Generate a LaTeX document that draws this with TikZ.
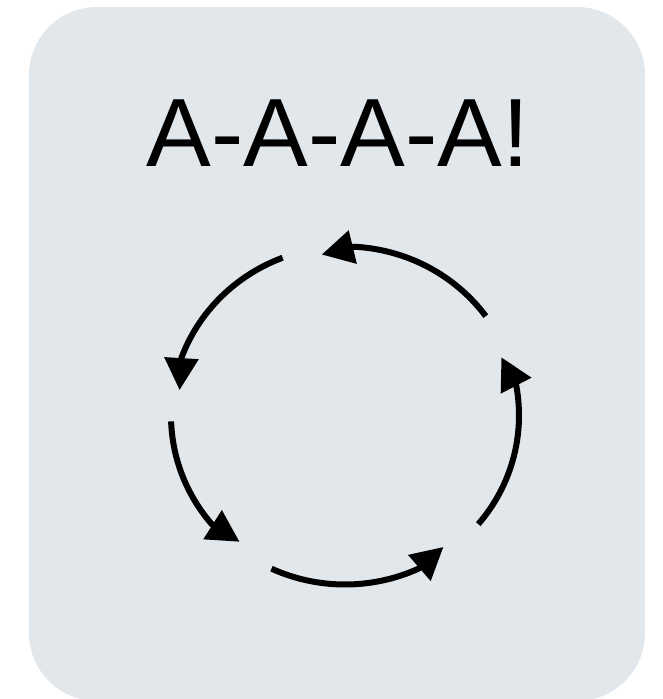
\documentclass[tikz,border=0pt]{standalone}
\usepackage{fontspec}
\setmainfont{Liberation Sans}
\usetikzlibrary{arrows.meta,calc}
\definecolor{panelgray}{HTML}{E2E7EC}

\begin{document}
\begin{tikzpicture}[x=1pt,y=1pt,
  cyclearrow/.style={line width=6pt,-{Triangle[length=32pt,width=33pt]}}]
 \useasboundingbox (0,0) rectangle (662,699);
 % panel
 \fill[panelgray,rounded corners=68pt] (29,-2) rectangle (645,692);
 % title
 \node[anchor=base,inner sep=0pt,font=\fontsize{97}{100}\selectfont] (title) at (338,532.3) {A-A-A-A!};
 % cycle of arrows
 \coordinate (c) at (345,283.5);
 \foreach \a/\b in {36/87,111/160,182/220,245/295,320/370}
  \draw[cyclearrow] ($(c)+(\a:174 and 169)$) arc[start angle=\a,end angle=\b,x radius=174,y radius=169]
   -- ($(c)+(\b+11:167.5 and 162.5)$);
\end{tikzpicture}
\end{document}
